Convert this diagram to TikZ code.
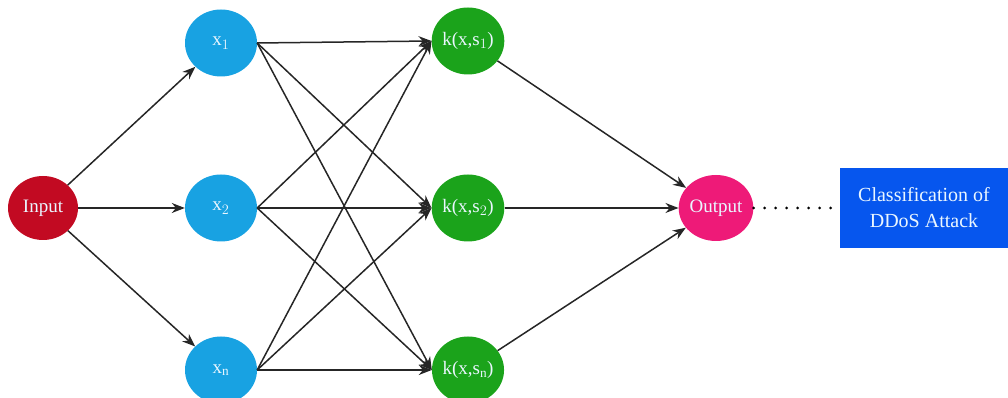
\documentclass[tikz,border=0pt]{standalone}
\usepackage{fontspec}
\setmainfont{Liberation Serif}
\usetikzlibrary{arrows.meta,shapes.geometric}
\definecolor{inred}{HTML}{C20A22}
\definecolor{xblue}{HTML}{18A2E2}
\definecolor{kgreen}{HTML}{1BA31B}
\definecolor{outpink}{HTML}{EE1A78}
\definecolor{boxblue}{HTML}{0656EE}
\definecolor{txtlight}{HTML}{EAF6FF}
\tikzset{
  neuron/.style={ellipse, minimum width=72pt, minimum height=67pt, inner sep=0pt, text=txtlight, font=\fontsize{19}{22}\selectfont},
  link/.style={draw=black!85, line width=1.5pt, -{Stealth[length=13pt,width=10pt]}},
}
\begin{document}
\begin{tikzpicture}[x=1pt,y=1pt]
\useasboundingbox (0,0) rectangle (1008,398);
% nodes
\node[neuron, fill=inred, minimum width=70pt, minimum height=64pt] (in) at (43,190) {Input};
\node[neuron, fill=xblue] (x1) at (221,355) {x$_1$};
\node[neuron, fill=xblue] (x2) at (221,190) {x$_2$};
\node[neuron, fill=xblue] (xn) at (221,28) {x$_\mathrm{n}$};
\node[neuron, fill=kgreen] (k1) at (468,357) {k(x,s$_1$)};
\node[neuron, fill=kgreen] (k2) at (468,190) {k(x,s$_2$)};
\node[neuron, fill=kgreen] (kn) at (468,28) {k(x,s$_\mathrm{n}$)};
\node[neuron, fill=outpink, minimum width=67pt, minimum height=66pt] (out) at (716,190) {Output};
\node[fill=boxblue, text=txtlight, minimum width=168pt, minimum height=80pt, align=center,
      font=\fontsize{20}{26}\selectfont, inner sep=0pt] (cls) at (924,190) {Classification of\\DDoS Attack};
% input layer to hidden layer
\draw[link] (in) -- (x1);
\draw[link] (in) -- (x2);
\draw[link] (in) -- (xn);
% hidden layer to kernel layer
\foreach \a in {x1,x2,xn}{
  \foreach \b in {k1,k2,kn}{
    \draw[link] (\a.east) -- (\b.west);
  }
}
% kernel layer to output
\draw[link] (k1) -- (out);
\draw[link] (k2) -- (out);
\draw[link] (kn) -- (out);
% output to classification
\draw[line width=3pt, dash pattern=on 0pt off 11pt, line cap=round] (out.east) -- (cls.west);
\end{tikzpicture}
\end{document}
